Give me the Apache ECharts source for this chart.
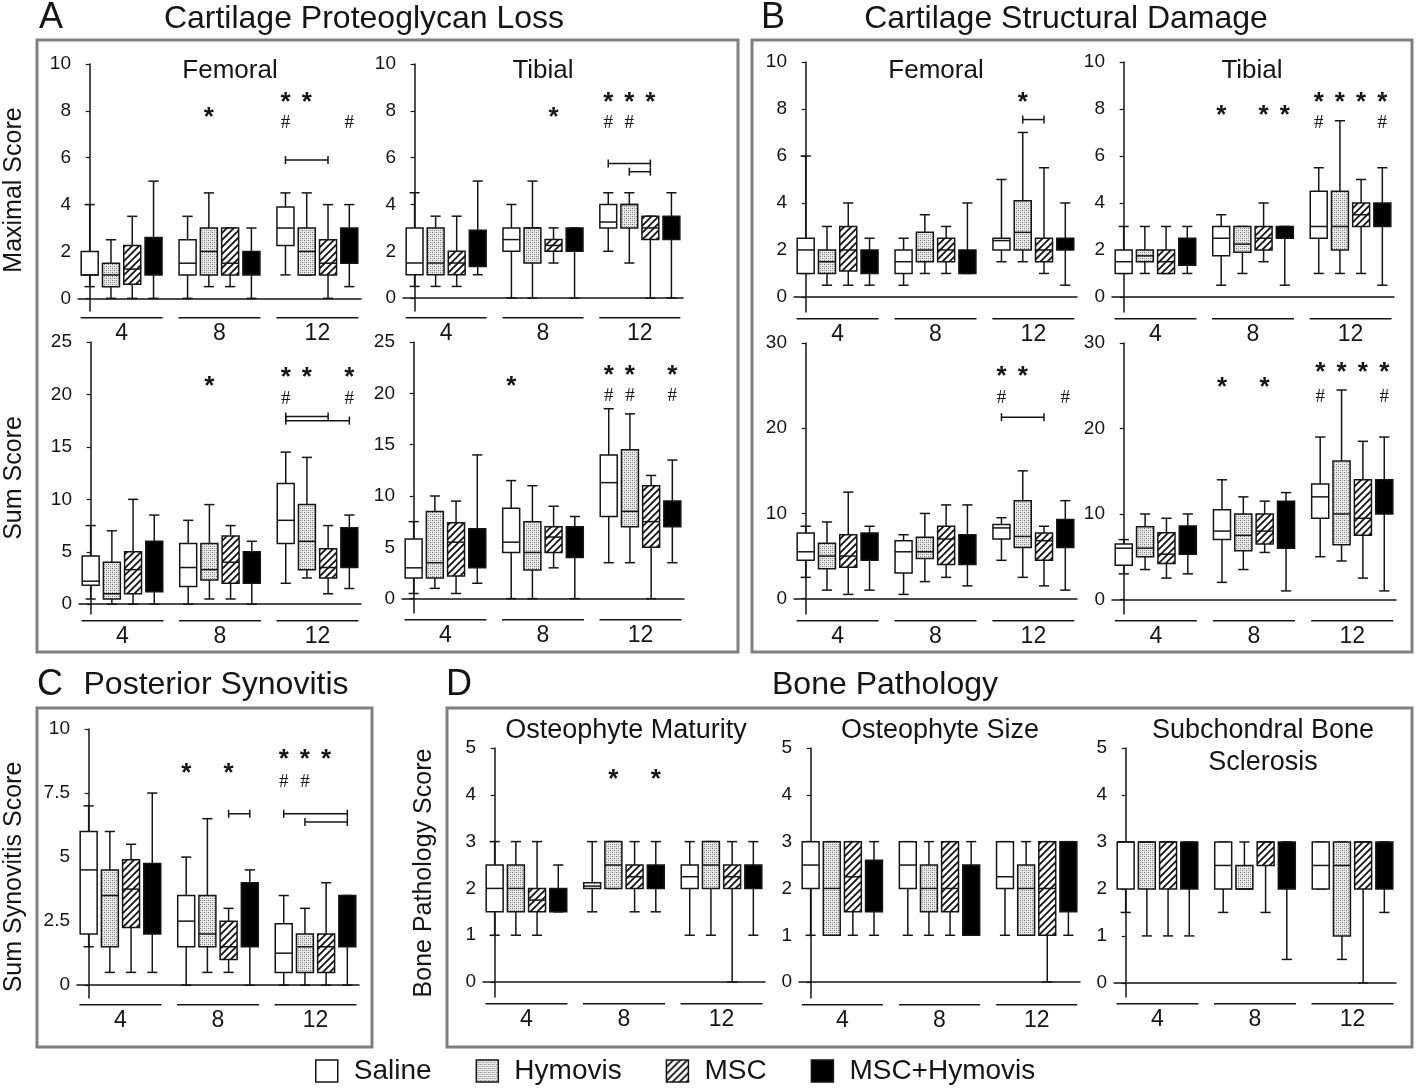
<!DOCTYPE html>
<html>
<head>
<meta charset="utf-8">
<script src="https://cdn.jsdelivr.net/npm/echarts@6/dist/echarts.min.js"></script>
<style>
  html, body { margin: 0; padding: 0; background: #fff; }
  #main { width: 1418px; height: 1088px; }
</style>
</head>
<body>
<div id="main"></div>
<script>
const treatments = ['Saline', 'Hymovis', 'MSC', 'MSC+Hymovis'];
const weeks = ['4', '8', '12'];

// box stats [min, Q1, median, Q3, max]; weeks 4, 8, 12 x four treatments
const pglFemoralMax = [
  [0.5, 1, 1, 2, 4], [0, 0.5, 1, 1.5, 2.5], [0, 0.6, 1.25, 2.25, 3.5], [0, 1, 1, 2.6, 5],
  [0, 1, 1.5, 2.5, 3.5], [0.5, 1, 2, 3, 4.5], [0.5, 1, 1.5, 3, 3], [0, 1, 1, 2, 3],
  [1, 2.25, 3, 3.9, 4.5], [1, 1, 2, 3, 4.5], [0, 1, 1.5, 2.5, 4], [0.5, 1.5, 2, 3, 4]
];
const pglTibialMax = [
  [0.5, 1, 1.5, 3, 4.5], [0.5, 1, 1.5, 3, 3.5], [0.5, 1, 1.5, 2, 3.5], [1, 1.35, 2, 2.9, 5],
  [0, 2, 2.5, 3, 4], [0, 1.5, 3, 3, 5], [1.5, 2, 2.25, 2.5, 3], [0, 2, 2.5, 3, 3],
  [2, 3, 3.25, 4, 4.5], [1.5, 3, 4, 4, 4.5], [0, 2.5, 3, 3.5, 3.5], [0, 2.5, 3, 3.5, 4.5]
];
const pglFemoralSum = [
  [0.5, 1.8, 2.2, 4.6, 7.5], [0, 0.5, 1, 4, 7], [0, 1, 3.3, 5, 10], [0, 1.2, 3, 6, 8.5],
  [0, 1.7, 3.5, 5.8, 8], [0.5, 2.3, 3.3, 5.8, 9.5], [0.5, 2, 4, 6.5, 7.5], [0, 2, 3, 5, 6],
  [2, 5.8, 8, 11.5, 14.5], [2.5, 3.3, 6, 9.5, 14], [1, 2.5, 3.5, 5.3, 7.5], [1.5, 3.5, 5, 7.3, 8.5]
];
const pglTibialSum = [
  [0.5, 2, 3, 5.8, 7.5], [1, 2, 3.5, 8.5, 10], [0.5, 2.2, 5.5, 7.4, 9.5], [1.5, 3, 5, 6.8, 14],
  [0, 4.5, 5.5, 8.8, 11.5], [0, 2.8, 4.5, 7.5, 11], [3, 4.5, 6, 7, 9], [0, 4, 5.5, 7, 8],
  [3.5, 8, 11.3, 14, 18.5], [3.5, 7, 8.5, 14.5, 18], [0, 5, 7.5, 11, 12], [3.5, 7, 8.5, 9.5, 13.5]
];
const dmgFemoralMax = [
  [1, 1, 2, 2.5, 6], [0.5, 1, 1.5, 2, 3], [0.5, 1.1, 2, 3, 4], [0.5, 1, 1.5, 2, 2.5],
  [0.5, 1, 1.5, 2, 2.5], [1, 1.5, 2, 2.75, 3.5], [1, 1.5, 2, 2.5, 3], [1, 1, 1.5, 2, 4],
  [1.5, 2, 2.4, 2.5, 5], [1.5, 2, 2.75, 4.1, 7], [1, 1.5, 2, 2.5, 5.5], [0.5, 2, 2.25, 2.5, 4]
];
const dmgTibialMax = [
  [1, 1, 1.5, 2, 3], [1, 1.5, 1.75, 2, 3], [1, 1, 1.5, 2, 3], [1, 1.35, 2, 2.5, 3],
  [0.5, 1.75, 2.5, 3, 3.5], [1, 1.9, 2.25, 3, 3], [1.5, 2, 2.5, 3, 4], [0.5, 2.5, 3, 3, 3],
  [1, 2.5, 3, 4.5, 5.5], [1, 2, 3, 4.5, 7.5], [1, 3, 3.5, 4, 5], [0.5, 3, 3.5, 4, 5.5]
];
const dmgFemoralSum = [
  [2.5, 4.5, 5.5, 7.7, 8.5], [1, 3.5, 5, 6.5, 9], [0.5, 3.7, 5, 7.5, 12.5], [1, 4.5, 6, 7.7, 8.5],
  [0.5, 3, 5.5, 6.8, 7.5], [2, 4.7, 5.5, 7.2, 10], [2.5, 4, 7, 8.5, 11], [1.5, 4, 5.5, 7.5, 11],
  [4.5, 7, 8.3, 8.7, 9.5], [2.5, 6, 7.3, 11.5, 15], [1.5, 4.5, 6.8, 7.7, 8.5], [1, 6, 7.5, 9.3, 11.5]
];
const dmgTibialSum = [
  [3, 4, 6, 6.5, 7], [3.5, 5, 6, 8.5, 10], [2.5, 4.2, 5.3, 7.8, 9.5], [3, 5.3, 6.5, 8.6, 10],
  [2, 7, 8, 10.5, 14], [3.5, 5.7, 7.5, 10, 12], [5.5, 6.5, 8, 10, 11.5], [1, 6, 8, 11.5, 12.5],
  [5, 9.5, 12, 13.5, 19], [4.5, 6.4, 10, 16.2, 24.5], [2.5, 7.5, 9.5, 14, 18.5], [1, 10, 12, 14, 19]
];
const synovitisSum = [
  [1.5, 2, 4.5, 6, 7], [0.5, 1.5, 3.5, 4.5, 6], [0.5, 2.25, 3.75, 4.9, 5.5], [0.5, 2, 3.5, 4.75, 7.5],
  [0, 1.5, 2.5, 3.5, 5], [0.5, 1.5, 2, 3.5, 6.5], [0.5, 1, 1.5, 2.5, 3], [0, 1.5, 2.5, 4, 4.5],
  [0, 0.5, 1.25, 2.4, 3.5], [0, 0.5, 1.5, 2, 3], [0, 0.5, 1.5, 2, 4], [0, 1.5, 2.5, 3.5, 3.5]
];
const osteoMaturity = [
  [1, 1.5, 2, 2.5, 3], [1, 1.5, 2, 2.5, 3], [1, 1.5, 1.75, 2, 3], [1.5, 1.5, 1.75, 2, 2.5],
  [1.5, 2, 2.05, 2.12, 3], [2, 2, 2.5, 3, 3], [1.5, 2, 2.25, 2.5, 3], [1.5, 2, 2.25, 2.5, 3],
  [1, 2, 2.25, 2.5, 3], [1, 2, 2.5, 3, 3], [0, 2, 2.25, 2.5, 3], [1, 2, 2.25, 2.5, 3]
];
const osteoSize = [
  [1, 2, 2.5, 3, 3], [1, 1, 2, 3, 3], [1, 1.5, 2.25, 3, 3], [1, 1.5, 2, 2.6, 3],
  [1, 2, 2.5, 3, 3], [1, 1.5, 2, 2.5, 3], [1, 1.5, 2, 3, 3], [1, 1, 1.5, 2.5, 3],
  [1, 2, 2.25, 3, 3], [1, 1, 2, 2.5, 3], [0, 1, 2, 3, 3], [1, 1.5, 2.5, 3, 3]
];
const boneSclerosis = [
  [1.5, 2, 3, 3, 3], [1, 2, 3, 3, 3], [1, 2, 3, 3, 3], [1, 2, 3, 3, 3],
  [1.5, 2, 2.5, 3, 3], [2, 2, 2, 2.5, 3], [1.5, 2.5, 3, 3, 3], [0.5, 2, 3, 3, 3],
  [2, 2, 2.5, 3, 3], [0.5, 1, 2.5, 3, 3], [0, 2, 3, 3, 3], [1.5, 2, 3, 3, 3]
];

// significance marks: [box index, y value]; brackets: [from box, to box, y value]
const pglFemoralMaxStars = [[5, 7.95], [8, 8.6], [9, 8.6]];
const pglFemoralMaxHash = [[8, 7.5], [11, 7.5]];
const pglFemoralMaxBrackets = [[8, 10, 5.9]];
const pglTibialMaxStars = [[6, 7.95], [8, 8.6], [9, 8.6], [10, 8.6]];
const pglTibialMaxHash = [[8, 7.5], [9, 7.5]];
const pglTibialMaxBrackets = [[8, 10, 5.75], [9, 10, 5.4]];
const pglFemoralSumStars = [[5, 21.3], [8, 22.2], [9, 22.2], [11, 22.2]];
const pglFemoralSumHash = [[8, 19.6], [11, 19.6]];
const pglFemoralSumBrackets = [[8, 10, 17.9], [8, 11, 17.5]];
const pglTibialSumStars = [[4, 21.2], [8, 22.3], [9, 22.3], [11, 22.3]];
const pglTibialSumHash = [[8, 19.7], [9, 19.7], [11, 19.7]];
const dmgFemoralMaxStars = [[9, 8.5]];
const dmgFemoralMaxBrackets = [[9, 10, 7.55]];
const dmgTibialMaxStars = [[4, 7.97], [6, 7.97], [7, 7.97], [8, 8.5], [9, 8.5], [10, 8.5], [11, 8.5]];
const dmgTibialMaxHash = [[8, 7.4], [11, 7.4]];
const dmgFemoralSumStars = [[8, 26.7], [9, 26.7]];
const dmgFemoralSumHash = [[8, 23.5], [11, 23.5]];
const dmgFemoralSumBrackets = [[8, 10, 21.3]];
const dmgTibialSumStars = [[4, 25.45], [6, 25.45], [8, 27.2], [9, 27.2], [10, 27.2], [11, 27.2]];
const dmgTibialSumHash = [[8, 23.7], [11, 23.7]];
const synovitisStars = [[4, 8.47], [6, 8.47], [8, 9.02], [9, 9.02], [10, 9.02]];
const synovitisHash = [[8, 7.95], [9, 7.95]];
const synovitisBrackets = [[6, 7, 6.69], [8, 11, 6.69], [9, 11, 6.37]];
const maturityStars = [[5, 4.44], [7, 4.44]];

const ticks10 = [0, 2, 4, 6, 8, 10];
const ticks25 = [0, 5, 10, 15, 20, 25];
const ticks30 = [0, 10, 20, 30];
const ticksSyn = [0, 2.5, 5, 7.5, 10];
const ticks5 = [0, 1, 2, 3, 4, 5];

const INK = '#151515';
const FONT = 'Liberation Sans, Arial, sans-serif';
const GSTEP = 4.6;
const pos = i => Math.floor(i / 4) * GSTEP + (i % 4);

function dotCanvas() {
  const c = document.createElement('canvas');
  c.width = 4; c.height = 4;
  const g = c.getContext('2d');
  g.fillStyle = '#e8e8e8'; g.fillRect(0, 0, 4, 4);
  g.fillStyle = '#767676';
  g.fillRect(0, 0, 1, 1); g.fillRect(2, 2, 1, 1);
  g.fillStyle = '#aaaaaa';
  g.fillRect(2, 0, 1, 1); g.fillRect(0, 2, 1, 1);
  return c;
}
function hatchCanvas() {
  const s = 7;
  const c = document.createElement('canvas');
  c.width = s; c.height = s;
  const g = c.getContext('2d');
  g.fillStyle = '#fff'; g.fillRect(0, 0, s, s);
  g.strokeStyle = '#111'; g.lineWidth = 1.8;
  g.beginPath();
  g.moveTo(-1, s + 1); g.lineTo(s + 1, -1);
  g.moveTo(-1, 1); g.lineTo(1, -1);
  g.moveTo(s - 1, s + 1); g.lineTo(s + 1, s - 1);
  g.stroke();
  return c;
}
const fills = ['#ffffff', { image: dotCanvas(), repeat: 'repeat' }, { image: hatchCanvas(), repeat: 'repeat' }, '#000000'];

// layout of each small plot: grid box [left, top, width, height] and y range
const panels = [
  { data: pglFemoralMax, stars: pglFemoralMaxStars, hash: pglFemoralMaxHash, br: pglFemoralMaxBrackets, box: [78, 64, 283, 247], yMin: -0.54, yMax: 10, ticks: ticks10 },
  { data: pglTibialMax, stars: pglTibialMaxStars, hash: pglTibialMaxHash, br: pglTibialMaxBrackets, box: [403, 64, 280, 247], yMin: -0.55, yMax: 10, ticks: ticks10 },
  { data: pglFemoralSum, stars: pglFemoralSumStars, hash: pglFemoralSumHash, br: pglFemoralSumBrackets, box: [79, 342, 282, 272], yMin: -0.93, yMax: 25, ticks: ticks25 },
  { data: pglTibialSum, stars: pglTibialSumStars, hash: pglTibialSumHash, br: [], box: [402, 342, 282, 271], yMin: -1.4, yMax: 25, ticks: ticks25 },
  { data: dmgFemoralMax, stars: dmgFemoralMaxStars, hash: [], br: dmgFemoralMaxBrackets, box: [794, 62, 283, 250], yMin: -0.64, yMax: 10, ticks: ticks10 },
  { data: dmgTibialMax, stars: dmgTibialMaxStars, hash: dmgTibialMaxHash, br: [], box: [1112, 62, 282, 250], yMin: -0.64, yMax: 10, ticks: ticks10 },
  { data: dmgFemoralSum, stars: dmgFemoralSumStars, hash: dmgFemoralSumHash, br: dmgFemoralSumBrackets, box: [794, 343, 283, 271], yMin: -1.8, yMax: 30, ticks: ticks30 },
  { data: dmgTibialSum, stars: dmgTibialSumStars, hash: dmgTibialSumHash, br: [], box: [1112, 343, 284, 271], yMin: -1.7, yMax: 30, ticks: ticks30 },
  { data: synovitisSum, stars: synovitisStars, hash: synovitisHash, br: synovitisBrackets, box: [77, 729, 282, 269], yMin: -0.5, yMax: 10, ticks: ticksSyn },
  { data: osteoMaturity, stars: maturityStars, hash: [], br: [], box: [483, 748, 282, 249], yMin: -0.32, yMax: 5, ticks: ticks5 },
  { data: osteoSize, stars: [], hash: [], br: [], box: [799, 748, 281, 250], yMin: -0.34, yMax: 5, ticks: ticks5 },
  { data: boneSclerosis, stars: [], hash: [], br: [], box: [1114, 748, 282, 249], yMin: -0.3, yMax: 5, ticks: ticks5 }
];

function boxRenderer(t) {
  return function (params, api) {
    const x = api.value(0);
    const lo = api.coord([x, api.value(1)]);
    const q1 = api.coord([x, api.value(2)]);
    const md = api.coord([x, api.value(3)]);
    const q3 = api.coord([x, api.value(4)]);
    const hi = api.coord([x, api.value(5)]);
    const w = api.size([0.8, 0])[0];
    const c = w * 0.3;
    const cx = lo[0];
    const ln = { stroke: INK, lineWidth: 1.5 };
    const parts = [
      { type: 'line', shape: { x1: cx, y1: hi[1], x2: cx, y2: q3[1] }, style: ln },
      { type: 'line', shape: { x1: cx, y1: q1[1], x2: cx, y2: lo[1] }, style: ln },
      { type: 'line', shape: { x1: cx - c, y1: hi[1], x2: cx + c, y2: hi[1] }, style: ln },
      { type: 'line', shape: { x1: cx - c, y1: lo[1], x2: cx + c, y2: lo[1] }, style: ln },
      { type: 'rect', shape: { x: cx - w / 2, y: q3[1], width: w, height: q1[1] - q3[1] }, style: { fill: fills[t], stroke: INK, lineWidth: 1.5 } }
    ];
    // median hidden inside the solid black box, as in the figure
    if (t !== 3) parts.push({ type: 'line', shape: { x1: cx - w / 2, y1: md[1], x2: cx + w / 2, y2: md[1] }, style: ln });
    return { type: 'group', children: parts };
  };
}
function textRenderer(ch, size, dy, family) {
  return function (params, api) {
    const p = api.coord([api.value(0), api.value(1)]);
    return {
      type: 'text', x: p[0], y: p[1] + dy,
      style: { text: ch, fontSize: size, fontFamily: family, fontWeight: ch === '*' ? 'bold' : 'normal', fill: INK, align: 'center', verticalAlign: 'middle' }
    };
  };
}
function bracketRenderer(params, api) {
  const a = api.coord([api.value(0), api.value(2)]);
  const b = api.coord([api.value(1), api.value(2)]);
  const st = { stroke: INK, lineWidth: 1.5 };
  return {
    type: 'group',
    children: [
      { type: 'line', shape: { x1: a[0], y1: a[1], x2: b[0], y2: b[1] }, style: st },
      { type: 'line', shape: { x1: a[0], y1: a[1] - 4, x2: a[0], y2: a[1] + 4 }, style: st },
      { type: 'line', shape: { x1: b[0], y1: b[1] - 4, x2: b[0], y2: b[1] + 4 }, style: st }
    ]
  };
}

const groupCenters = weeks.map((w, g) => g * GSTEP + 1.5);

const option = {
  animation: false,
  backgroundColor: '#fff',
  textStyle: { fontFamily: FONT },
  grid: [], xAxis: [], yAxis: [], series: [],
  legend: {
    data: treatments,
    left: 310, top: 1052,
    icon: 'rect', itemWidth: 22, itemHeight: 22, itemGap: 44,
    selectedMode: false,
    itemStyle: { borderColor: INK, borderWidth: 1.5 },
    textStyle: { fontSize: 28, color: INK, fontFamily: FONT, padding: [0, 0, 0, 11] }
  },
  graphic: []
};

panels.forEach((p, k) => {
  const [left, top, width, height] = p.box;
  option.grid.push({ left, top, width, height, outerBoundsMode: 'none' });
  option.xAxis.push({
    type: 'value', gridIndex: k, min: -0.55, max: 12.75,
    axisLine: { show: true, lineStyle: { color: INK, width: 1.5 } },
    axisTick: { show: false }, splitLine: { show: false },
    axisLabel: {
      customValues: groupCenters,
      margin: 6,
      formatter: v => '{u| }\n{t|' + weeks[Math.round((v - 1.5) / GSTEP)] + '}',
      rich: {
        u: { width: Math.round(width * 0.29), height: 1.6, lineHeight: 1.6, backgroundColor: INK },
        t: { fontSize: 23, lineHeight: 30, color: INK, fontFamily: FONT }
      }
    }
  });
  option.yAxis.push({
    type: 'value', gridIndex: k, min: p.yMin, max: p.yMax,
    axisLine: { show: true, lineStyle: { color: INK, width: 1.5 } },
    axisTick: { show: true, customValues: p.ticks, length: 4, lineStyle: { color: INK, width: 1.2 } },
    axisLabel: { customValues: p.ticks, formatter: v => String(v), fontSize: 19, color: INK, margin: 7, fontFamily: FONT },
    splitLine: { show: false }
  });
  treatments.forEach((name, t) => {
    option.series.push({
      type: 'custom', name, xAxisIndex: k, yAxisIndex: k,
      renderItem: boxRenderer(t),
      itemStyle: { color: fills[t], borderColor: INK, borderWidth: 1.5 },
      encode: { x: 0, y: [1, 2, 3, 4, 5] },
      data: weeks.map((w, g) => [g * GSTEP + t].concat(p.data[g * 4 + t]))
    });
  });
  if (p.stars.length) option.series.push({
    type: 'custom', xAxisIndex: k, yAxisIndex: k, silent: true,
    renderItem: textRenderer('*', 26, 6, FONT), encode: { x: 0, y: 1 },
    data: p.stars.map(s => [pos(s[0]), s[1]])
  });
  if (p.hash.length) option.series.push({
    type: 'custom', xAxisIndex: k, yAxisIndex: k, silent: true,
    renderItem: textRenderer('#', 19, 0, 'Liberation Serif, serif'), encode: { x: 0, y: 1 },
    data: p.hash.map(s => [pos(s[0]), s[1]])
  });
  if (p.br.length) option.series.push({
    type: 'custom', xAxisIndex: k, yAxisIndex: k, silent: true,
    renderItem: bracketRenderer, encode: { x: [0, 1], y: 2 },
    data: p.br.map(b => [pos(b[0]), pos(b[1]), b[2]])
  });
});

// panel frames, titles and axis names
const frame = (x, y, w, h) => ({ type: 'rect', shape: { x, y, width: w, height: h }, style: { fill: 'none', stroke: '#808080', lineWidth: 3 }, silent: true });
const label = (x, y, text, size, align) => ({ type: 'text', x, y, style: { text, fontSize: size, fontFamily: FONT, fill: INK, align: align || 'center', verticalAlign: 'middle' }, silent: true });
const vlabel = (x, y, text) => ({ type: 'text', x, y, rotation: Math.PI / 2, style: { text, fontSize: 25, fontFamily: FONT, fill: INK, align: 'center', verticalAlign: 'middle' }, silent: true });
option.graphic = [
  frame(37, 40, 701, 612), frame(752, 40, 660, 612), frame(37, 708, 335, 339), frame(447, 708, 965, 339),
  label(39, 18, 'A', 36, 'left'), label(364, 19, 'Cartilage Proteoglycan Loss', 32),
  label(761, 18, 'B', 36, 'left'), label(1066, 19, 'Cartilage Structural Damage', 32),
  label(37, 685, 'C', 36, 'left'), label(216, 685, 'Posterior Synovitis', 32),
  label(446, 685, 'D', 36, 'left'), label(885, 685, 'Bone Pathology', 32),
  label(230, 71, 'Femoral', 26), label(543, 71, 'Tibial', 26),
  label(936, 71, 'Femoral', 26), label(1252, 71, 'Tibial', 26),
  label(626, 731, 'Osteophyte Maturity', 27), label(940, 731, 'Osteophyte Size', 27),
  label(1263, 731, 'Subchondral Bone', 27), label(1263, 763, 'Sclerosis', 27),
  vlabel(14, 190, 'Maximal Score'), vlabel(14, 478, 'Sum Score'),
  vlabel(14, 877, 'Sum Synovitis Score'), vlabel(424, 873, 'Bone Pathology Score')
];

const chart = echarts.init(document.getElementById('main'));
chart.setOption(option);
</script>
</body>
</html>
